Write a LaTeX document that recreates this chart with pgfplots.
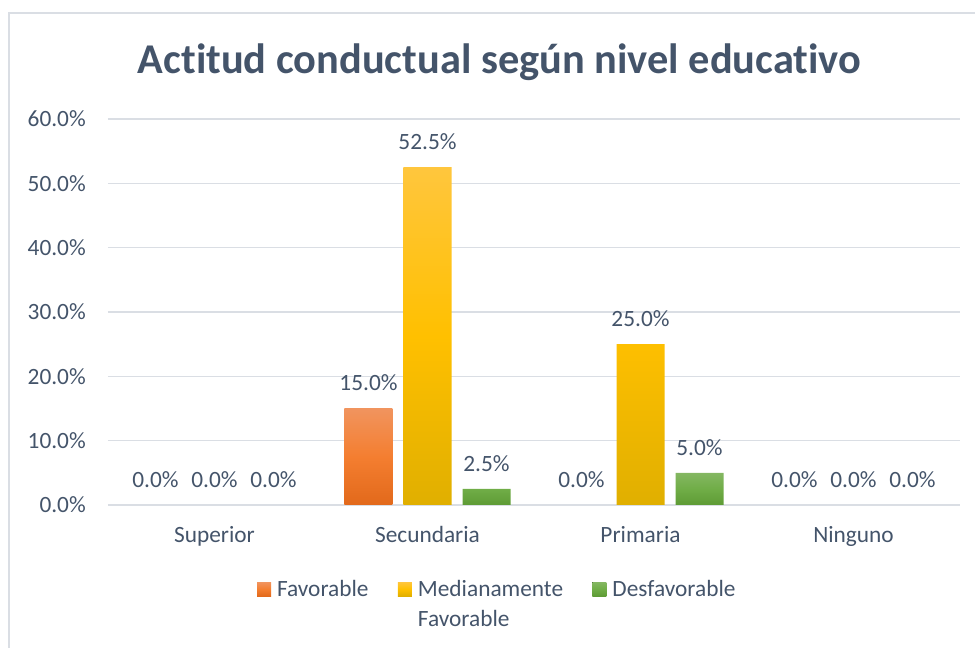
\documentclass[border=0pt]{standalone}
\usepackage{fontspec}
\setmainfont{Carlito}
\usepackage{pgfplots}
\pgfplotsset{compat=1.18}
\definecolor{txt}{HTML}{44546A}
\definecolor{gridc}{HTML}{DADEE4}
\definecolor{orT}{HTML}{F1945E}
\definecolor{orM}{HTML}{F47E30}
\definecolor{orB}{HTML}{E2691B}
\definecolor{yeT}{HTML}{FFC63D}
\definecolor{yeM}{HTML}{FFC000}
\definecolor{yeB}{HTML}{E0AF00}
\definecolor{grT}{HTML}{84B762}
\definecolor{grM}{HTML}{70AD47}
\definecolor{grB}{HTML}{5E9B35}
\pgfplotsset{sqlegend/.style={legend image code/.code={\fill[##1,draw=none] (0pt,0pt) rectangle (10.5pt,10.5pt);}}}
\newcommand\ti{t\kern0pt i}
\begin{document}
\begin{tikzpicture}
\path[use as bounding box] (0pt,0pt) rectangle (731.25pt,486pt);
\draw[gridc, line width=0.9pt] (6.75pt,-2pt) -- (6.75pt,476.25pt) -- (735pt,476.25pt);
\node[text=txt, font=\fontsize{31.8}{36}\selectfont\bfseries, anchor=base] at (374.6pt,431pt) {Ac\ti tud conductual según nivel educa\ti vo};
\begin{axis}[
  at={(81pt,107.25pt)}, anchor=south west,
  scale only axis, width=639pt, height=289.5pt,
  xmin=-0.5, xmax=3.5, ymin=0, ymax=60,
  ytick={0,10,...,60},
  xtick={0,1,2,3}, xticklabels={Superior,Secundaria,Primaria,Ninguno},
  /pgf/number format/assume math mode=true,
  yticklabel={\pgfmathprintnumber[fixed,fixed zerofill,precision=1]{\tick}\%},
  ymajorgrids, grid style={gridc, line width=1pt},
  major tick length=0pt, axis line style={draw=none},
  every tick label/.append style={font=\fontsize{17.5}{20}\selectfont, text=txt},
  xticklabel style={anchor=base, yshift=-28.5pt},
  yticklabel style={anchor=east, xshift=-16.5pt, inner sep=0pt},
  nodes near coords={\pgfmathprintnumber[fixed,fixed zerofill,precision=1]{\pgfplotspointmeta}\%},
  every node near coord/.append style={font=\fontsize{17.5}{20}\selectfont, text=txt, anchor=base, yshift=13.3pt, inner sep=0pt},
  legend columns=3,
  legend style={at={(0.1749,-0.1943)}, anchor=north west, draw=none, fill=none, inner sep=0pt, outer sep=0pt,
    font=\fontsize{17.5}{20}\selectfont, text=txt,
    nodes={anchor=base west, inner sep=0pt},
    /tikz/every odd column/.style={column sep=4.5pt},
    /tikz/every even column/.style={column sep=22pt}},
]
% bars (non-zero values)
\addplot[ybar, bar width=36pt, bar shift=-44.25pt, draw=none, top color=orT, bottom color=orB, middle color=orM, sqlegend,
  every node near coord/.append style={xshift=-44.25pt}] coordinates {(1,15)};
\addlegendentry{Favorable}
\addplot[ybar, bar width=36pt, bar shift=0pt, draw=none, top color=yeT, bottom color=yeB, middle color=yeM, sqlegend] coordinates {(1,52.5) (2,25)};
\addlegendentry{\vtop{\baselineskip=22.5pt\hbox{Medianamente}\hbox{Favorable}}}
\addplot[ybar, bar width=36pt, bar shift=44.25pt, draw=none, top color=grT, bottom color=grB, middle color=grM, sqlegend,
  every node near coord/.append style={xshift=44.25pt}] coordinates {(1,2.5) (2,5)};
\addlegendentry{Desfavorable}
% zero values (labels only)
\addplot[ybar, bar width=36pt, bar shift=-44.25pt, draw=none, fill=none, forget plot,
  every node near coord/.append style={xshift=-44.25pt}] coordinates {(0,0) (2,0) (3,0)};
\addplot[ybar, bar width=36pt, bar shift=0pt, draw=none, fill=none, forget plot] coordinates {(0,0) (3,0)};
\addplot[ybar, bar width=36pt, bar shift=44.25pt, draw=none, fill=none, forget plot,
  every node near coord/.append style={xshift=44.25pt}] coordinates {(0,0) (3,0)};
\end{axis}
\end{tikzpicture}
\end{document}
